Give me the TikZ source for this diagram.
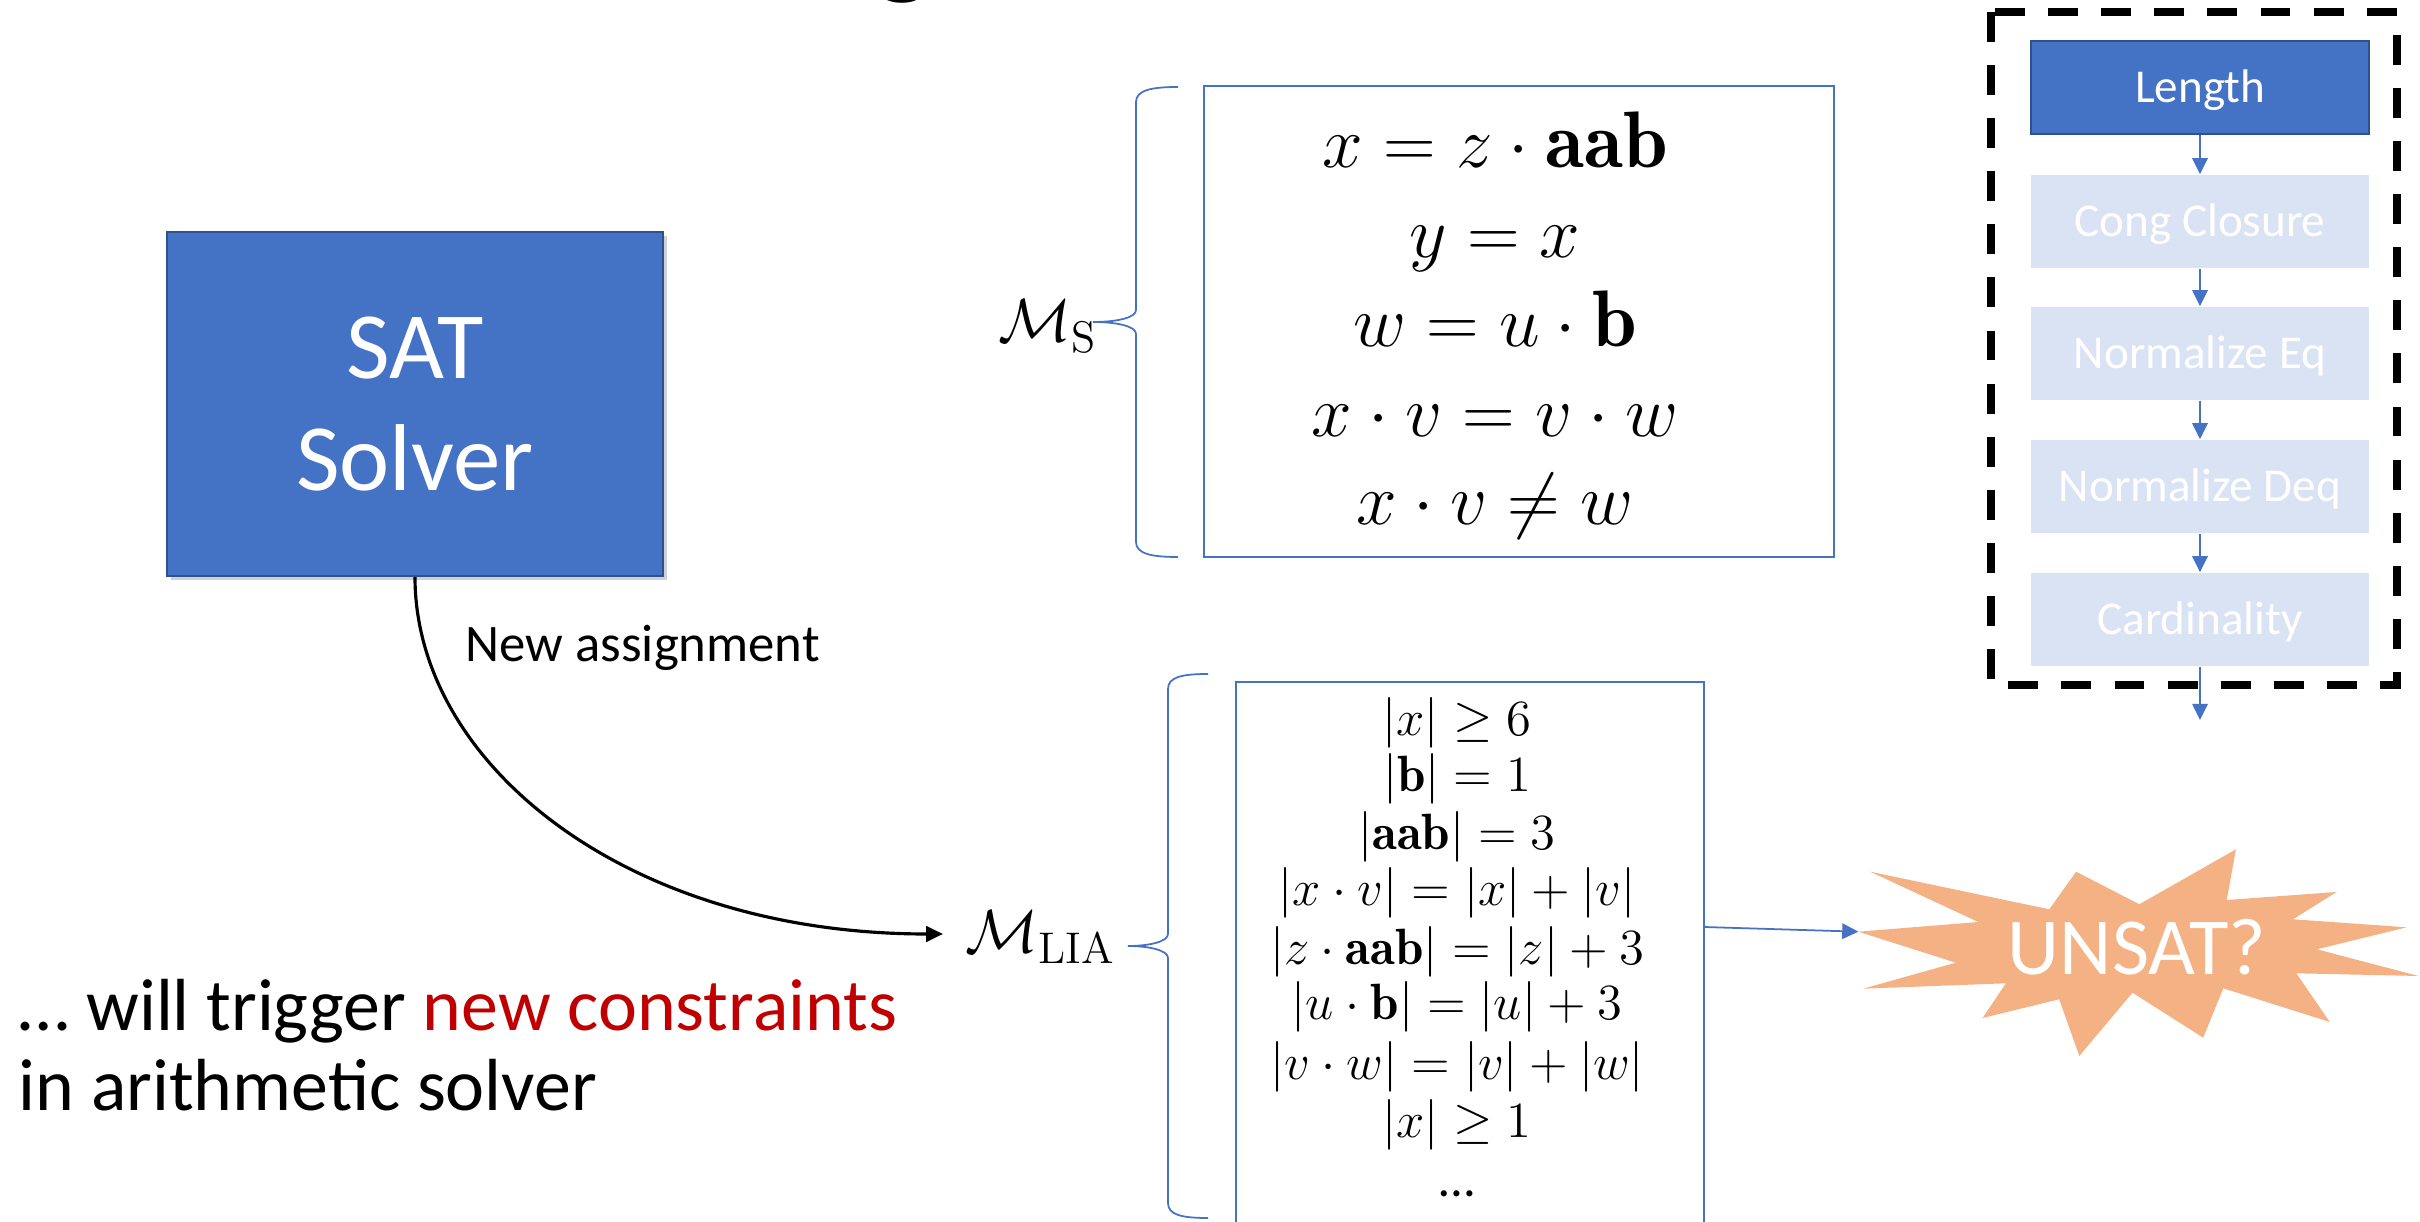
\documentclass[tikz,border=0pt]{standalone}
\usepackage{fontspec}
\newfontfamily\calibri{Carlito}
\usetikzlibrary{arrows.meta,shadows}
\definecolor{pblue}{HTML}{4472C4}
\definecolor{dblue}{HTML}{2F528F}
\definecolor{pale}{HTML}{DAE3F3}
\definecolor{orng}{HTML}{F4B183}
\definecolor{dred}{HTML}{C00000}
\begin{document}
\begin{tikzpicture}[x=0.01cm,y=-0.01cm,
  satbox/.style={fill=pblue, draw=dblue, line width=0.6pt, text=white, align=center,
    minimum width=4.96cm, minimum height=3.44cm, inner sep=0pt,
    font=\calibri\fontsize{27}{31.6}\selectfont,
    drop shadow={shadow xshift=1.2pt, shadow yshift=-1.2pt, opacity=0.3, fill=black!60}},
  stage/.style={fill=pale, draw=none, text=white, minimum width=3.38cm, minimum height=0.93cm,
    inner sep=0pt, text height=8.6pt, text depth=0pt,
    font=\calibri\fontsize{13.4}{16}\selectfont},
  stageon/.style={stage, fill=pblue, draw=dblue, line width=0.7pt},
  mbox/.style={draw=pblue, line width=0.6pt, inner sep=0pt},
  brace/.style={draw=pblue, line width=0.5pt},
  msf/.style={inner sep=0pt, anchor=base, font=\fontsize{22.8}{26}\selectfont},
  liaf/.style={inner sep=0pt, anchor=base, font=\fontsize{14.5}{17}\selectfont},
  mlab/.style={inner sep=0pt, anchor=base west, font=\fontsize{18}{20}\selectfont},
  lbl/.style={inner sep=0pt, anchor=base west, font=\calibri\fontsize{15}{18}\selectfont},
  bigtxt/.style={inner sep=0pt, anchor=base west, font=\calibri\fontsize{21}{23}\selectfont},
  unsattxt/.style={inner sep=0pt, anchor=base, text=white, font=\calibri\fontsize{23}{26}\selectfont},
  blackarrow/.style={draw=black, line width=0.9pt, -{Triangle[length=4.8pt,width=4.4pt]}},
  bluearrow/.style={draw=pblue, line width=0.5pt, -{Triangle[length=4.6pt,width=4.4pt]}},
  frame/.style={draw=black, line width=2.1pt, dash pattern=on 8.5pt off 6.6pt}
]
\useasboundingbox (0,0) rectangle (2420,1222);
\clip (0,0) rectangle (2420,1222);

% cut-off title letter
\node[inner sep=0pt, anchor=base, font=\calibri\fontsize{36}{36}\selectfont] (title) at (903,-18) {g};

% SAT solver
\node[satbox] (sat) at (415,404) {SAT\\Solver};
\node[lbl] (assign) at (465,662) {New assignment};
\coordinate (liain) at (943,934);
\draw[blackarrow] (sat.south) .. controls (415,763) and (625,934) .. (liain);

% M_S
\node[mbox, minimum width=6.30cm, minimum height=4.71cm] (msbox) at (1519,321.5) {};
\draw[brace] (1178,87) .. controls (1152,87) and (1136,90) .. (1136,102) -- (1136,310)
  .. controls (1136,318) and (1116,322) .. (1093,322)
  .. controls (1116,322) and (1136,326) .. (1136,334) -- (1136,542)
  .. controls (1136,554) and (1152,557) .. (1178,557);
\node[mlab] (mslab) at (998,342) {$\mathcal{M}_{\mathrm{S}}$};
\node[msf] (ms1) at (1495,168) {$x = z \cdot \mathbf{aab}$};
\node[msf] (ms2) at (1495,258) {$y = x$};
\node[msf] (ms3) at (1495,347) {$w = u \cdot \mathbf{b}$};
\node[msf] (ms4) at (1495,437) {$x \cdot v = v \cdot w$};
\node[msf] (ms5) at (1495,525) {$x \cdot v \neq w$};

% M_LIA
\node[mbox, minimum width=4.68cm, minimum height=5.80cm] (liabox) at (1470,972) {};
\draw[brace] (1208,674) .. controls (1182,674) and (1168,677) .. (1168,689) -- (1168,934)
  .. controls (1168,942) and (1148,946) .. (1128,946)
  .. controls (1148,946) and (1168,950) .. (1168,958) -- (1168,1203)
  .. controls (1168,1215) and (1182,1218) .. (1208,1218);
\node[mlab] (lialab) at (965,953) {$\mathcal{M}_{\mathrm{LIA}}$};
\node[liaf] (l1) at (1457,736) {$|x| \geq 6$};
\node[liaf] (l2) at (1457,792) {$|\mathbf{b}| = 1$};
\node[liaf] (l3) at (1457,850) {$|\mathbf{aab}| = 3$};
\node[liaf] (l4) at (1457,906) {$|x \cdot v| = |x| + |v|$};
\node[liaf] (l5) at (1457,965) {$|z \cdot \mathbf{aab}| = |z| + 3$};
\node[liaf] (l6) at (1457,1020) {$|u \cdot \mathbf{b}| = |u| + 3$};
\node[liaf] (l7) at (1457,1080) {$|v \cdot w| = |v| + |w|$};
\node[liaf] (l8) at (1457,1137) {$|x| \geq 1$};
\node[liaf, font=\calibri\fontsize{14.5}{17}\selectfont] (l9) at (1457,1196) {…};

% UNSAT star
\coordinate (startip) at (1858.4,931.7);
\fill[orng] (startip) -- (1955.8,962.7) -- (1863.1,988.7) -- (2005.9,983.3) -- (1982.6,1018)
  -- (2059.2,999.3) -- (2079.3,1056) -- (2132.5,992.7) -- (2203.2,1037.7) -- (2223.3,988.3)
  -- (2329.8,1022) -- (2296.3,973.3) -- (2418.5,976) -- (2316.8,949.3) -- (2406.7,927.3)
  -- (2293,919.3) -- (2336.5,892) -- (2226.8,900) -- (2235.9,849.3) -- (2139.3,904.3)
  -- (2076.1,871.7) -- (2049.3,909.3) -- (1870.2,871.7) -- (1978.3,922) -- cycle;
\node[unsattxt] (unsat) at (2137,975) {UNSAT?};
\coordinate (liaout) at (1704,927);
\draw[bluearrow] (liaout) -- (startip);

% right panel
\draw[frame] (1991,12) rectangle (2397,685);
\node[stageon] (len) at (2200,87.5) {Length};
\node[stage] (cong) at (2200,221.5) {Cong Closure};
\node[stage] (neq) at (2200,353.5) {Normalize Eq};
\node[stage] (ndeq) at (2200,486.5) {Normalize Deq};
\node[stage] (card) at (2200,619.5) {Cardinality};
\coordinate (panelout) at (2200,720);
\draw[bluearrow] (len.south) -- (cong.north);
\draw[bluearrow] (cong.south) -- (neq.north);
\draw[bluearrow] (neq.south) -- (ndeq.north);
\draw[bluearrow] (ndeq.south) -- (card.north);
\draw[bluearrow] (card.south) -- (panelout);

% bottom text
\node[bigtxt] (trig1) at (18,1031) {… will trigger \textcolor{dred}{new constraints}};
\node[bigtxt] (trig2) at (18,1111) {in arithmetic solver};
\end{tikzpicture}
\end{document}
